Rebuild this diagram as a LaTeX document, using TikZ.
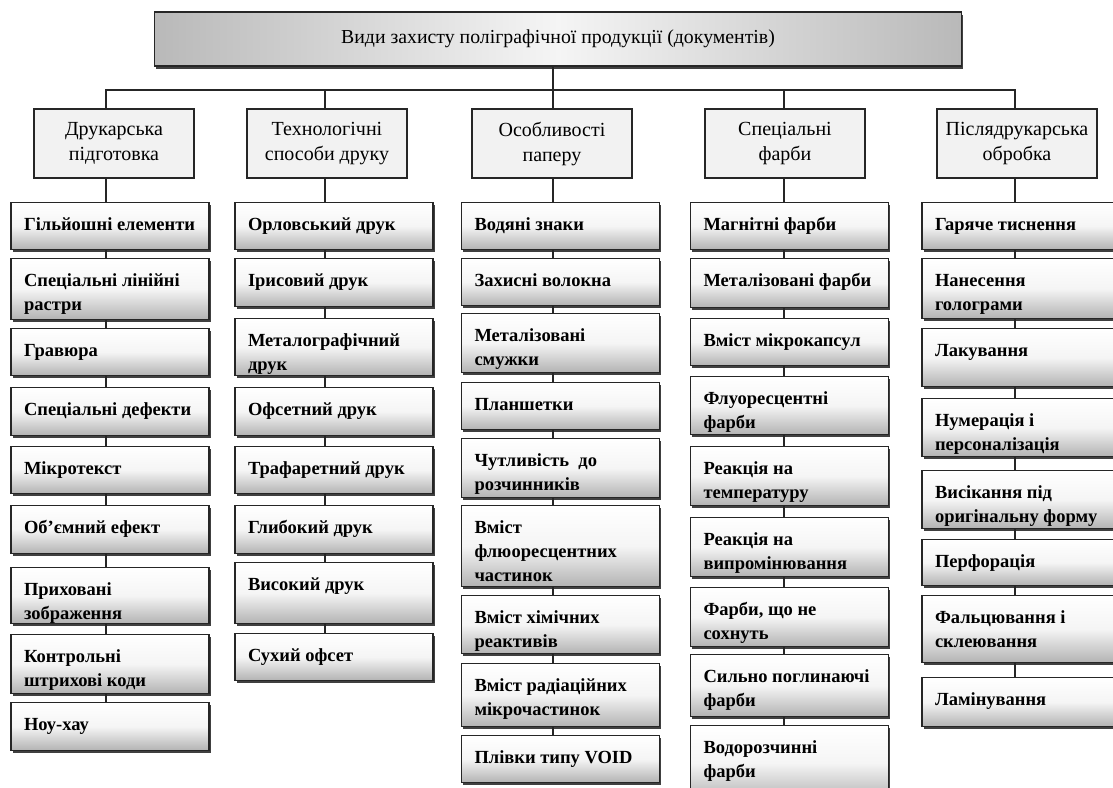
\documentclass[tikz,border=0pt]{standalone}
\usepackage{fontspec}
\setmainfont{Liberation Serif}
\usetikzlibrary{shadows}
\newcommand{\itm}[2]{\parbox[c][#1pt][t]{172pt}{\raggedright\strut#2}}

\begin{document}
\begin{tikzpicture}[
    x=1pt, y=-1pt,
    title/.style={rectangle, draw=black!85, line width=1.3pt, minimum width=807pt, minimum height=54pt,
                  left color=gray!55, right color=gray!55, middle color=white!92!gray,
                  font=\fontsize{19.8}{23}\selectfont, inner sep=2pt,
                  drop shadow={shadow xshift=1.5pt, shadow yshift=-2.5pt, fill=black!75, opacity=1}},
    hdr/.style={rectangle, draw=black!85, line width=1.3pt, fill=gray!10, minimum width=160pt,
                minimum height=69pt, align=center, font=\fontsize{20}{25}\selectfont, inner sep=2pt},
    item/.style={rectangle, draw=black!85, line width=1.3pt, anchor=north,
                 top color=white, bottom color=gray!60, middle color=gray!8,
                 inner xsep=13pt, inner ysep=11pt, font=\fontsize{18.5}{24}\selectfont\bfseries,
                 drop shadow={shadow xshift=1.5pt, shadow yshift=-2.5pt, fill=black!75, opacity=1}},
    link/.style={line width=1.6pt, black!85},
]
    \useasboundingbox (0,0) rectangle (1113,787);
    \fill[white] (0,0) rectangle (1113,787);

    % Top: title
    \node[title] (title) at (558,39) {Види захисту поліграфічної продукції (документів)};

    % Bus points
    \coordinate (sa) at (106,90);
    \coordinate (sb) at (325,90);
    \coordinate (sc) at (553,90);
    \coordinate (sd) at (784,90);
    \coordinate (se) at (1015,90);

    % Headers
    \node[hdr] (ha) at (114,143.5) {Друкарська\\підготовка};
    \node[hdr] (hb) at (327,143.5) {Технологічні\\способи друку};
    \node[hdr] (hc) at (552,143.5) {Особливості\\паперу};
    \node[hdr] (hd) at (785,143.5) {Спеціальні\\фарби};
    \node[hdr] (he) at (1017,143.5) {Післядрукарська\\обробка};

    % Column 1: printing preparation
    \node[item] (a1) at (110,202) {\itm{25}{Гільйошні елементи}};
    \node[item] (a2) at (110,258) {\itm{39}{Спеціальні лінійні\\растри}};
    \node[item] (a3) at (110,328) {\itm{25}{Гравюра}};
    \node[item] (a4) at (110,387) {\itm{26}{Спеціальні дефекти}};
    \node[item] (a5) at (110,446) {\itm{25}{Мікротекст}};
    \node[item] (a6) at (110,505) {\itm{26}{Об’ємний ефект}};
    \node[item] (a7) at (110,567) {\itm{34}{Приховані\\зображення}};
    \node[item] (a8) at (110,634) {\itm{37}{Контрольні\\штрихові коди}};
    \node[item] (a9) at (110,702) {\itm{26}{Ноу-хау}};

    % Column 2: printing methods
    \node[item] (b1) at (334,202) {\itm{25}{Орловський друк}};
    \node[item] (b2) at (334,258) {\itm{26}{Ірисовий друк}};
    \node[item] (b3) at (334,318) {\itm{35}{Металографічний\\друк}};
    \node[item] (b4) at (334,387) {\itm{26}{Офсетний друк}};
    \node[item] (b5) at (334,446) {\itm{25}{Трафаретний друк}};
    \node[item] (b6) at (334,505) {\itm{26}{Глибокий друк}};
    \node[item] (b7) at (334,562) {\itm{39}{Високий друк}};
    \node[item] (b8) at (334,633) {\itm{25}{Сухий офсет}};

    % Column 3: paper
    \node[item] (c1) at (560.5,202) {\itm{25}{Водяні знаки}};
    \node[item] (c2) at (560.5,258) {\itm{25}{Захисні волокна}};
    \node[item] (c3) at (560.5,313) {\itm{37}{Металізовані\\смужки}};
    \node[item] (c4) at (560.5,382) {\itm{25}{Планшетки}};
    \node[item] (c5) at (560.5,438) {\itm{37}{Чутливість~ до\\розчинників}};
    \node[item] (c6) at (560.5,505) {\itm{59}{Вміст\\флюоресцентних\\частинок}};
    \node[item] (c7) at (560.5,595) {\itm{36}{Вміст хімічних\\реактивів}};
    \node[item] (c8) at (560.5,663) {\itm{41}{Вміст радіаційних\\мікрочастинок}};
    \node[item] (c9) at (560.5,735) {\itm{25}{Плівки типу VOID}};

    % Column 4: special inks
    \node[item] (d1) at (789.5,202) {\itm{25}{Магнітні фарби}};
    \node[item] (d2) at (789.5,258) {\itm{27}{\mbox{Металізовані фарби}}};
    \node[item] (d3) at (789.5,318) {\itm{25}{Вміст мікрокапсул}};
    \node[item] (d4) at (789.5,376) {\itm{36}{Флуоресцентні\\фарби}};
    \node[item] (d5) at (789.5,446) {\itm{37}{Реакція на\\температуру}};
    \node[item] (d6) at (789.5,517) {\itm{37}{Реакція на\\випромінювання}};
    \node[item] (d7) at (789.5,587) {\itm{37}{Фарби, що не\\сохнуть}};
    \node[item] (d8) at (789.5,654) {\itm{40}{\mbox{Сильно поглинаючі}\\фарби}};
    \node[item] (d9) at (789.5,725) {\itm{53}{Водорозчинні\\фарби}};

    % Column 5: post-press
    \node[item] (e1) at (1021,202) {\itm{25}{Гаряче тиснення}};
    \node[item] (e2) at (1021,258) {\itm{38}{Нанесення\\голограми}};
    \node[item] (e3) at (1021,328) {\itm{36}{Лакування}};
    \node[item] (e4) at (1021,398) {\itm{36}{Нумерація і\\персоналізація}};
    \node[item] (e5) at (1021,470) {\itm{36}{Висікання під\\\mbox{оригінальну форму}}};
    \node[item] (e6) at (1021,539) {\itm{24}{Перфорація}};
    \node[item] (e7) at (1021,595) {\itm{45}{Фальцювання і\\склеювання}};
    \node[item] (e8) at (1021,677) {\itm{27}{Ламінування}};

    % Links
    \draw[link] (title.south -| sc) -- (sc);
    \draw[link] (sa |- ha.north) -- (sa) -- (se) -- (se |- he.north);
    \foreach \c in {b,c,d}
        \draw[link] (s\c) -- (s\c |- h\c.north);
    \foreach \c/\n in {a/9,b/8,c/9,d/9,e/8} {
        \draw[link] (s\c |- h\c.south) -- (s\c |- \c1.north);
        \pgfmathtruncatemacro\m{\n-1}
        \foreach \i in {1,...,\m} {
            \pgfmathtruncatemacro\k{\i+1}
            \draw[link] (s\c |- \c\i.south) -- (s\c |- \c\k.north);
        }
    }
\end{tikzpicture}
\end{document}
